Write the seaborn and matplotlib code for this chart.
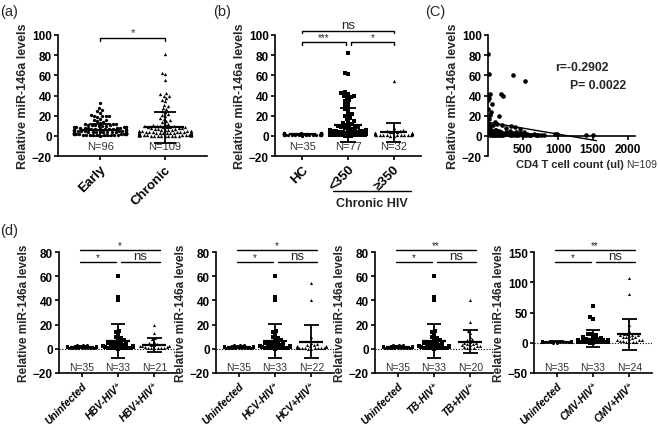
import warnings
import numpy as np
import pandas as pd
import matplotlib
matplotlib.use("Agg")
import matplotlib.pyplot as plt
import seaborn as sns
warnings.filterwarnings("ignore")

# ── (a) early vs chronic HIV ──
EARLY = [32.5, 28, 26, 24.5, 23, 21, 20, 20, 20, 19.5, 19, 17, 16, 16, 15, 14,
         13, 12, 12, 12, 11, 11, 11, 10.5, 10, 10, 10,
         9, 9, 9, 9, 8.5, 8, 8, 8, 8, 7.5, 7, 7, 7, 7, 7,
         6.5, 6, 6, 6, 6, 6, 5.5, 5, 5, 5, 5, 5, 5,
         4.5, 4, 4, 4, 4, 4, 4, 4, 3.5, 3, 3, 3, 3, 3, 3, 3, 3,
         2.5, 2.5, 2.5, 2, 2, 2, 2, 2, 2, 2, 1.5, 1.5, 1.5,
         1, 1, 1, 1, 1, 1, 0.5, 0.5, 0.5, 0.5, 0.2]
CHRONIC = [81, 62, 61, 55, 42, 41, 40, 40, 38, 36, 35, 31, 30, 28, 27, 25, 24, 22, 21, 20,
           18, 17, 16, 15, 14, 12, 12, 11, 10, 10, 10, 9.5, 9, 9, 9, 9, 8.5, 8, 8, 8,
           7, 7, 7, 6, 6, 6, 6, 5, 5, 5, 5, 5, 4.5, 4, 4, 4, 4, 4, 3.5, 3,
           3, 3, 3, 3, 3, 2.5, 2.5, 2.5, 2.5, 2, 2, 2, 2, 2, 2, 2, 1.5, 1.5, 1.5, 1.5,
           1.5, 1, 1, 1, 1, 1, 1, 1, 1, 0.8, 0.8, 0.8, 0.6, 0.6, 0.6, 0.5, 0.5, 0.5, 0.4, 0.4,
           0.3, 0.3, 0.2, 0.2, 0.1, 0.1, 0.1, 0.1, 0.1]
A_LABELS = ["Early", "Chronic"]
A_N = ["N=96", "N=109"]
A_MEAN = [5.5, 8.5]
A_SD = [6, 15.5]

# ── (b) HC vs chronic HIV by CD4 ──
HC = [3.2, 3.0, 2.8, 2.6, 2.5, 2.4, 2.2, 2.1, 2.0, 2.0, 1.9, 1.8, 1.8, 1.7, 1.6, 1.6, 1.5, 1.5,
      1.4, 1.4, 1.3, 1.2, 1.2, 1.1, 1.0, 1.0, 0.9, 0.8, 0.7, 0.6, 0.5, 0.4, 0.3, 1.7, 1.3]
CD4_LOW = [82, 62, 61, 43, 42, 41, 40, 40, 39, 38, 36, 35, 33, 31, 29, 27, 25, 22, 21, 20,
           18, 17, 15, 14, 13, 12, 11, 10, 10, 9, 9, 8, 8, 7, 7, 6, 6, 6, 5, 5,
           5, 5, 4, 4, 4, 4, 4, 3, 3, 3, 3, 3, 3, 2.5, 2.5, 2.5, 2, 2, 2, 2,
           2, 1.5, 1.5, 1.5, 1.5, 1, 1, 1, 1, 1, 0.8, 0.6, 0.5, 0.4, 0.3, 0.2, 0.1]
CD4_HIGH = [54, 8, 6, 5, 4.5, 4, 4, 3.5, 3, 3, 3, 2.5, 2.5, 2, 2, 2, 2, 1.5, 1.5, 1.5,
            1.5, 1, 1, 1, 1, 0.8, 0.7, 0.6, 0.5, 0.4, 0.3, 0.2]
B_LABELS = ["HC", "<350", "\u2265350"]
B_N = ["N=35", "N=77", "N=32"]
B_MEAN = [1.6, 11, 3.5]
B_SD = [0.6, 17, 9.5]

# ── (c) CD4 count vs miR-146a ──
CD4_COUNT = [5, 20, 350, 530, 190, 210, 5, 30, 10, 0, 60, 5, 40, 160, 30, 15, 100, 130, 200, 330, 380, 250,
             10, 20, 30, 40, 50, 60, 70, 80, 90, 100, 110, 120, 140, 150, 170, 180, 200, 220, 240, 260,
             280, 300, 320, 340, 360, 380, 400, 420, 440, 460, 480, 500, 520, 540, 560, 600, 650, 700,
             750, 800, 950, 980, 1400, 1500,
             15, 25, 35, 45, 55, 65, 75, 85, 95, 105, 115, 125, 135, 145, 155, 165, 175, 185, 195, 230,
             270, 310, 350, 390, 430, 470, 510, 580, 620, 680, 720, 5,
             0, 8, 12, 18, 22, 28, 45, 70, 110, 250, 460]
MIR_C = [81, 61, 60, 54, 41, 40, 40, 41, 38, 36, 32, 27, 24, 20, 21, 17, 14, 12, 11, 10, 9, 8,
         5, 3, 6, 2, 4, 1, 5, 3, 2, 6, 4, 1, 3, 5, 2, 4, 3, 1, 2, 4,
         3, 2, 5, 1, 3, 2, 4, 1, 2, 3, 1, 2, 4, 1, 2, 1, 2, 1,
         0.5, 1, 2, 2, 0.5, 0.5,
         2, 1, 4, 0.5, 3, 1.5, 2.5, 0.5, 3, 1, 2, 0.5, 1.5, 3.5, 1, 2, 0.5, 3, 1, 2,
         1.5, 0.5, 2, 1, 0.5, 1.5, 1, 0.5, 1, 1, 0.5, 8,
         6, 10, 4, 12, 7, 9, 5, 11, 6, 3, 7]
FIT_X = [0, 1550]
FIT_INTERCEPT = 13.5
FIT_SLOPE = -0.0118

# ── (d) co-infections ──
UNINFECTED = HC
HIV_MONO = [60, 43, 40, 15, 14, 12, 10, 9, 8, 7, 6, 6, 5, 5, 4, 4, 3, 3, 3, 2.5,
            2, 2, 2, 1.5, 1.5, 1, 1, 1, 0.8, 0.5, 0.5, 0.3, 0.2]
HBV_CO = [20, 13, 9, 8, 6, 5, 4, 3, 3, 2.5, 2, 2, 2, 1.5, 1.5, 1, 1, 1, 0.8, 0.5, 0.3]
HCV_CO = [54, 40, 10, 5, 4, 3, 3, 2.5, 2, 2, 1.5, 1.5, 1, 1, 1, 0.8, 0.6, 0.5, 0.4, 0.3, 0.2, 0.1]
TB_CO = [40, 22, 15, 13, 10, 8, 7, 6, 5, 5, 4, 4, 3, 3, 2, 2, 1.5, 1, 1, 0.5]
CMV_CO = [107, 81, 30, 20, 15, 14, 13, 12, 12, 11, 10, 10, 9, 8, 6, 5, 4, 4, 3, 3, 2, 2, 1.5, 1]
D_VIRUS = ["HBV", "HCV", "TB", "CMV"]
D_CO = [HBV_CO, HCV_CO, TB_CO, CMV_CO]
D_N = [["N=35", "N=33", "N=21"], ["N=35", "N=33", "N=22"],
       ["N=35", "N=33", "N=20"], ["N=35", "N=33", "N=24"]]
D_MEAN = [[1.6, 6.5, 3], [1.6, 6.5, 6], [1.6, 6.5, 6], [1.6, 6.5, 14]]
D_SD = [[0.6, 14, 6], [0.6, 14, 13.5], [0.6, 14, 9.8], [0.6, 14, 26]]
D_TOP_SIG = ["*", "*", "**", "**"]
D_YLIM = [(-20, 80), (-20, 80), (-20, 80), (-50, 150)]
D_YSTEP = [20, 20, 20, 50]

sns.set_theme(style="ticks")
plt.rcParams.update({
    "font.family": ["Liberation Sans", "DejaVu Sans"],
    "font.weight": "bold",
    "axes.edgecolor": "black",
    "axes.linewidth": 1.2,
    "xtick.color": "black",
    "ytick.color": "black",
    "xtick.major.width": 1.2,
    "ytick.major.width": 1.2,
    "xtick.major.size": 3,
    "ytick.major.size": 3,
    "xtick.major.pad": 2,
    "ytick.major.pad": 1.5,
    "axes.labelweight": "bold",
})

W, H = 658, 431
fig = plt.figure(figsize=(W / 100, H / 100), dpi=100)
fig.patch.set_facecolor("white")


def add_ax(left, top, width, height):
    return fig.add_axes([left / W, 1 - (top + height) / H, width / W, height / H])


def column_scatter(ax, groups, labels, markers, means, sds, ns, size=2.4,
                   n_frac=0.085, n_size=8, cap=0.17, mean_w=0.3):
    df = pd.DataFrame({
        "group": np.repeat(labels, [len(g) for g in groups]),
        "value": np.concatenate([np.asarray(g, float) for g in groups]),
    })
    for lab, mk in zip(labels, markers):
        sns.swarmplot(data=df[df["group"] == lab], x="group", y="value", order=labels,
                      marker=mk, color="black", size=size, linewidth=0, ax=ax,
                      warn_thresh=1, zorder=3)
    pos = np.arange(len(labels))
    means = np.asarray(means, float)
    sds = np.asarray(sds, float)
    ax.vlines(pos, means - sds, means + sds, color="black", lw=1.3, zorder=4)
    ax.hlines(means, pos - mean_w, pos + mean_w, color="black", lw=1.6, zorder=4)
    ax.hlines(means - sds, pos - cap, pos + cap, color="black", lw=1.3, zorder=4)
    ax.hlines(means + sds, pos - cap, pos + cap, color="black", lw=1.3, zorder=4)
    for p, n in zip(pos, ns):
        ax.text(p, n_frac, n, transform=ax.get_xaxis_transform(), ha="center",
                va="center", fontsize=n_size, fontweight="normal", color="#333333")
    ax.set_xlabel("")
    sns.despine(ax=ax)


def bracket(ax, x0, x1, y, drop, text, fs=8, gap=0.5):
    ax.plot([x0, x0, x1, x1], [y - drop, y, y, y - drop], color="black", lw=1,
            clip_on=False)
    ax.text((x0 + x1) / 2, y + gap, text, ha="center", va="bottom", fontsize=fs,
            fontweight="normal", clip_on=False)


# ── panel (a) ──
ax_a = add_ax(58, 36, 149, 121)
column_scatter(ax_a, [EARLY, CHRONIC], A_LABELS, ["o", "^"], A_MEAN, A_SD, A_N)
ax_a.set_xlim(-0.65, 1.65)
ax_a.set_ylim(-20, 100)
ax_a.set_yticks(range(-20, 101, 20))
ax_a.set_xticks([0, 1])
ax_a.set_xticklabels(A_LABELS, rotation=45, ha="right", rotation_mode="anchor", fontsize=9.5)
ax_a.tick_params(axis="y", labelsize=8.5)
ax_a.set_ylabel("Relative miR-146a levels", fontsize=9, labelpad=2)
bracket(ax_a, 0, 1, 97, 3, "*", fs=8)

# ── panel (b) ──
ax_b = add_ax(275, 36, 146, 121)
column_scatter(ax_b, [HC, CD4_LOW, CD4_HIGH], B_LABELS, ["o", "s", "^"], B_MEAN, B_SD, B_N)
ax_b.set_xlim(-0.6, 2.6)
ax_b.set_ylim(-20, 100)
ax_b.set_yticks(range(-20, 101, 20))
ax_b.set_xticks([0, 1, 2])
ax_b.set_xticklabels(B_LABELS, rotation=45, ha="right", rotation_mode="anchor", fontsize=9.5)
ax_b.tick_params(axis="y", labelsize=8.5)
ax_b.set_ylabel("Relative miR-146a levels", fontsize=9, labelpad=2)
bracket(ax_b, 0, 0.95, 93, 2.5, "***", fs=7, gap=0)
bracket(ax_b, 1.07, 2, 93, 2.5, "*", fs=7, gap=0)
bracket(ax_b, 0, 2, 104, 2.5, "ns", fs=9.5, gap=0)
ax_b.plot([0.67, 2.37], [-0.29, -0.29], transform=ax_b.get_xaxis_transform(),
          color="black", lw=1, clip_on=False)
ax_b.text(1.52, -0.34, "Chronic HIV", transform=ax_b.get_xaxis_transform(),
          ha="center", va="top", fontsize=9)

# ── panel (c) ──
ax_c = add_ax(488, 36, 147, 121)
sns.scatterplot(x=CD4_COUNT, y=MIR_C, ax=ax_c, color="black", s=11, linewidth=0, zorder=3)
fit_y = [FIT_INTERCEPT + FIT_SLOPE * x for x in FIT_X]
sns.lineplot(x=FIT_X, y=fit_y, ax=ax_c, color="black", lw=1)
ax_c.set_xlim(0, 2100)
ax_c.set_ylim(-20, 100)
ax_c.set_yticks(range(-20, 101, 20))
ax_c.set_xticks([500, 1000, 1500, 2000])
ax_c.tick_params(axis="both", labelsize=8.5)
ax_c.spines["bottom"].set_position(("data", 0))
sns.despine(ax=ax_c)
ax_c.set_ylabel("Relative miR-146a levels", fontsize=9, labelpad=2)
ax_c.text(0.456, 0.735, "r=-0.2902", transform=ax_c.transAxes, ha="left", va="center", fontsize=8.8)
ax_c.text(0.558, 0.587, "P= 0.0022", transform=ax_c.transAxes, ha="left", va="center", fontsize=8.8)
fig.text(570 / W, 1 - 165 / H, "CD4 T cell count (ul)", ha="center", va="center", fontsize=8)
fig.text(657 / W, 1 - 165 / H, "N=109", ha="right", va="center", fontsize=7.5,
         fontweight="normal", color="#333333")

# ── panel (d) ──
D_LEFT = [59, 216, 375, 534]
for i, virus in enumerate(D_VIRUS):
    ax = add_ax(D_LEFT[i], 253, 118, 121)
    labels = ["Uninfected", f"{virus}-HIV\u207a", f"{virus}+HIV\u207a"]
    ax.axhline(0, color="black", lw=0.8, ls=(0, (1, 1.5)), zorder=1)
    column_scatter(ax, [UNINFECTED, HIV_MONO, D_CO[i]], labels, ["o", "s", "^"],
                   D_MEAN[i], D_SD[i], D_N[i], size=2.2, n_frac=0.047, n_size=7.5,
                   cap=0.2, mean_w=0.33)
    lo, hi = D_YLIM[i]
    ax.set_xlim(-0.62, 2.62)
    ax.set_ylim(lo, hi)
    ax.set_yticks(range(lo, hi + 1, D_YSTEP[i]))
    ax.set_xticks([0, 1, 2])
    ax.set_xticklabels(labels, rotation=45, ha="right", rotation_mode="anchor",
                       fontsize=7.5, fontstyle="italic")
    ax.tick_params(axis="y", labelsize=8.5)
    ax.set_ylabel("Relative miR-146a levels", fontsize=8.5, labelpad=2)
    tr = ax.get_xaxis_transform()
    for (x0, x1, y, txt, fs) in [(-0.05, 2.15, 1.02, D_TOP_SIG[i], 7),
                                 (-0.05, 0.95, 0.92, "*", 7),
                                 (1.08, 2.15, 0.92, "ns", 9.5)]:
        ax.plot([x0, x1], [y, y], transform=tr, color="black", lw=1, clip_on=False)
        ax.text((x0 + x1) / 2, y, txt, transform=tr, ha="center", va="bottom",
                fontsize=fs, fontweight="normal", clip_on=False)

# ── panel letters ──
for txt, x, y in [("(a)", 0, 12), ("(b)", 213, 12), ("(C)", 425, 12), ("(d)", 0, 231)]:
    fig.text(x / W, 1 - y / H, txt, ha="left", va="center", fontsize=10.5, fontweight="normal")

fig.savefig("out.png", dpi=100, facecolor="white")
